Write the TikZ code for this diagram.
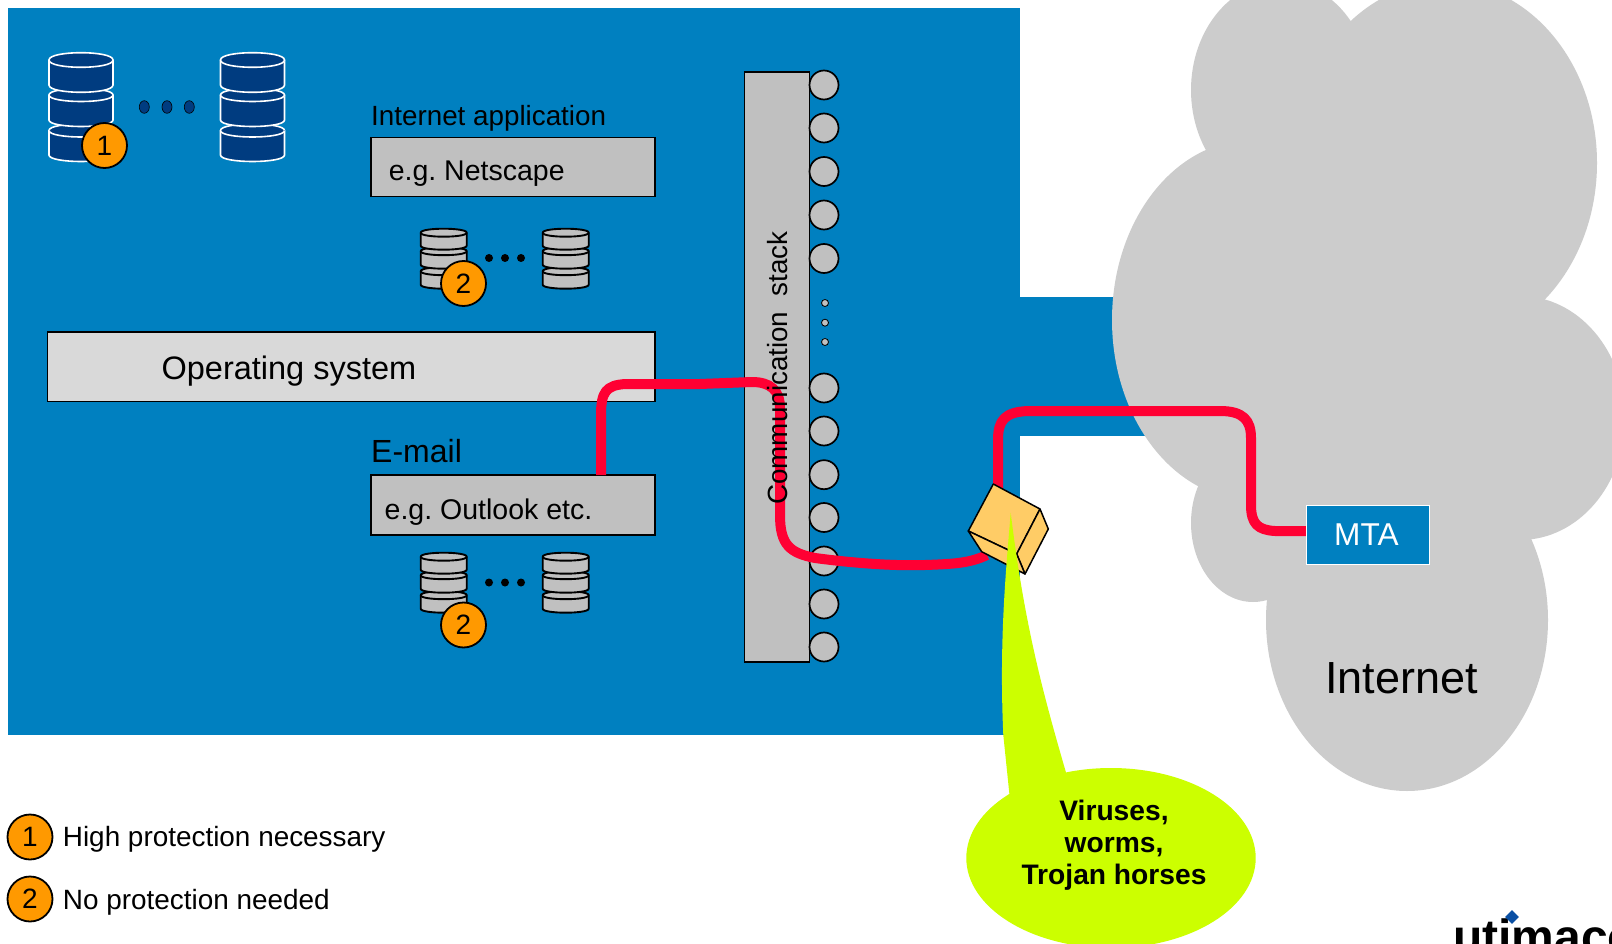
\documentclass[tikz,border=0pt]{standalone}
\usepackage{fontspec}
\usetikzlibrary{shapes.geometric}
\setmainfont{Liberation Sans}
\AtBeginDocument{\frenchspacing}
\definecolor{mainblue}{HTML}{0080C0}
\definecolor{navy}{HTML}{003C80}
\definecolor{boxgray}{HTML}{C0C0C0}
\definecolor{osgray}{HTML}{D9D9D9}
\definecolor{cloudgray}{HTML}{CCCCCC}
\definecolor{wire}{HTML}{FF0033}
\definecolor{badgeorange}{HTML}{FF9900}
\definecolor{cubeorange}{HTML}{FFCC66}
\definecolor{lime}{HTML}{CCFF00}
\definecolor{logoblue}{HTML}{0A4FA3}
\newcommand{\fpx}[1]{\fontsize{#1pt}{#1pt}\selectfont}
% x, y of top ellipse centre, rx, ry, height, style
\newcommand{\drumshape}[6]{%
  \draw[#6] ({#1-#3},{#2}) -- ({#1-#3},{#2+#5})
    .. controls ({#1-#3},{#2+#5+1.33*#4}) and ({#1+#3},{#2+#5+1.33*#4}) .. ({#1+#3},{#2+#5})
    -- ({#1+#3},{#2})
    .. controls ({#1+#3},{#2-1.33*#4}) and ({#1-#3},{#2-1.33*#4}) .. cycle;
  \draw[#6] ({#1-#3},{#2}) .. controls ({#1-#3},{#2+1.33*#4}) and ({#1+#3},{#2+1.33*#4}) .. ({#1+#3},{#2});
}
\newcommand{\bigstack}[1]{%
  \drumshape{#1}{130.5}{32}{6.5}{24.5}{bigdrum}
  \drumshape{#1}{95}{32}{6.5}{25}{bigdrum}
  \drumshape{#1}{60}{32}{7.3}{25}{bigdrum}
}
\newcommand{\smallstack}[2]{%
  \drumshape{#1}{#2+38.5}{23}{4}{13.5}{smalldrum}
  \drumshape{#1}{#2+18.5}{23}{4}{13.5}{smalldrum}
  \drumshape{#1}{#2}{23}{4}{13}{smalldrum}
}
\tikzset{
  x=1pt,y=-1pt,
  bigdrum/.style={fill=navy,draw=white,line width=1.6pt},
  smalldrum/.style={fill=boxgray,draw=black,line width=1.9pt},
  graybox/.style={draw=black,line width=1.2pt,fill=boxgray,inner sep=0pt,rectangle},
  portdisc/.style={circle,draw=black,line width=1.7pt,fill=boxgray,minimum size=29pt,inner sep=0pt},
  tinydisc/.style={circle,draw=black,line width=0.8pt,fill=boxgray,minimum size=7pt,inner sep=0pt},
  badge/.style={circle,draw=black,line width=1.8pt,fill=badgeorange,minimum size=45pt,inner sep=0pt,font=\fpx{28}},
  label/.style={inner sep=0pt,anchor=base west,font=\fpx{28}},
  wireline/.style={draw=wire,line width=10pt,line cap=round,line join=round},
  cubeface/.style={fill=cubeorange,draw=black,line width=1.5pt,line join=round},
}
\begin{document}
\begin{tikzpicture}
\useasboundingbox (0,0) rectangle (1612,944);
\clip (0,0) rectangle (1612,944);
\fill[white] (0,0) rectangle (1612,944);
% blue area
\fill[mainblue] (8,8) rectangle (1020,735);
\fill[mainblue] (1020,297) rectangle (1220,436);
% cloud
\fill[cloudgray] (1281,90) ellipse [x radius=90pt,y radius=109pt];
\fill[cloudgray] (1445,163) ellipse [x radius=152pt,y radius=181pt];
\fill[cloudgray] (1252,320) ellipse [x radius=140pt,y radius=180pt];
\fill[cloudgray] (1253,523) ellipse [x radius=62pt,y radius=79pt];
\fill[cloudgray] (1407,620) ellipse [x radius=141pt,y radius=171pt];
\fill[cloudgray] (1520,418) ellipse [x radius=105pt,y radius=122pt];
\fill[cloudgray] (1300,300) rectangle (1500,560);
\node[inner sep=0pt,anchor=base west,font=\fpx{45}] (inet) at (1325,693) {Internet};
% data stores
\bigstack{81}
\bigstack{252.5}
\foreach \dx/\nm in {144.3/a,167/b,189.3/c}
  \node[ellipse,draw=black,line width=0.6pt,fill=navy,minimum width=10pt,minimum height=12.6pt,inner sep=0pt] (bd\nm) at (\dx,107) {};
\node[badge] (b1) at (104.5,145.5) {1};
% application boxes
\node[label,font=\fpx{27.8}] (ia) at (371,126) {Internet application};
\node[graybox,minimum width=284pt,minimum height=59pt] (nets) at (513,167) {};
\node[label,font=\fpx{28.5}] (netst) at (388.6,181) {e.g. Netscape};
\smallstack{443.7}{232.7}
\smallstack{565.7}{232.7}
\foreach \dx/\nm in {489/a,505/b,521/c}
  \node[circle,fill=black,minimum size=8pt,inner sep=0pt] (ud\nm) at (\dx,258) {};
\node[badge] (b2a) at (463.5,283.5) {2};
\node[graybox,fill=osgray,minimum width=607.7pt,minimum height=69.5pt] (os) at (351.2,366.7) {};
\node[label,font=\fpx{32.5}] (ost) at (161.4,379) {Operating system};
\node[label,font=\fpx{32}] (em) at (371,462) {E-mail};
\node[graybox,minimum width=284pt,minimum height=60pt] (mail) at (513,505) {};
\node[label,font=\fpx{28.5}] (mailt) at (384.5,519) {e.g. Outlook etc.};
\smallstack{443.7}{556.7}
\smallstack{565.7}{556.7}
\foreach \dx/\nm in {489/a,505/b,521/c}
  \node[circle,fill=black,minimum size=8pt,inner sep=0pt] (ld\nm) at (\dx,582.5) {};
\node[badge] (b2b) at (463.5,625) {2};
% communication stack
\node[graybox,minimum width=65pt,minimum height=590pt] (comm) at (777,367) {};
\foreach \py/\nm in {85/a,128/b,171.5/c,215/d,258.5/e,388/f,431/g,474.7/h,517.5/i,561/j,604/k,647/l}
  \node[portdisc] (port\nm) at (824,\py) {};
\foreach \py/\nm in {303/a,322.7/b,342/c}
  \node[tinydisc] (tiny\nm) at (825,\py) {};
% MTA
\node[fill=mainblue,draw=white,line width=1pt,minimum width=123.5pt,minimum height=59.5pt,inner sep=0pt] (mta) at (1368,535) {};
\node[inner sep=0pt,anchor=base west,font=\fpx{31.6},text=white] (mtat) at (1334,545.7) {MTA};
% wires
\coordinate (wirestart) at (601,475);
\coordinate (cubein) at (987,555);
\coordinate (cubeout) at (998,490);
\draw[wireline,line cap=butt] (wirestart) -- (601,415) .. controls (601,392) and (606,385) .. (626,384)
  -- (700,384) -- (752,382) .. controls (770,382) and (780,390) .. (780,408)
  -- (780,515) .. controls (780,545) and (790,553) .. (815,558)
  .. controls (860,564) and (900,566) .. (925,565) .. controls (955,564) and (970,563) .. (cubein);
\draw[wireline,line cap=butt] (cubeout) -- (998,440) .. controls (998,420) and (1005,412) .. (1028,411)
  -- (1220,411) .. controls (1243,411) and (1251,420) .. (1251,438)
  -- (1251,505) .. controls (1251,524) and (1258,530) .. (1275,531) -- ([yshift=4pt]mta.west);
\node[inner sep=0pt,anchor=base,rotate=90,font=\fpx{27.8}] (commt) at (787.3,368) {Communication\ \ stack};
% cube
\coordinate (ca) at (993.3,484); \coordinate (cb) at (1040,509); \coordinate (cc) at (1048.3,529);
\coordinate (cd) at (1025,574); \coordinate (ce) at (981.7,551.7); \coordinate (cf) at (968.3,531);
\coordinate (cg) at (1016.7,554);
\draw[cubeface] (ca) -- (cb) -- (cg) -- (cf) -- cycle;
\draw[cubeface] (cb) -- (cc) -- (cd) -- (cg) -- cycle;
\draw[cubeface] (cf) -- (cg) -- (cd) -- (ce) -- cycle;
% callout
\fill[lime] (1010.7,512.7) .. controls (1006,570) and (999,640) .. (1003.3,735)
  -- (1010,800) -- (1066.7,775) .. controls (1045,700) and (1025,630) .. cycle;
\node[ellipse,fill=lime,minimum width=289.4pt,minimum height=180pt,inner sep=0pt] (callout) at (1111,858) {};
\foreach \ty/\tx/\nm in {820/{Viruses,}/a,852/{worms,}/b,884/{Trojan horses}/c}
  \node[inner sep=0pt,anchor=base,font=\bfseries\fpx{28.2}] (vt\nm) at (1114,\ty) {\tx};
% legend
\node[badge] (la) at (30,837) {1};
\node[label,font=\fpx{27.9}] (lat) at (62.7,846) {High protection necessary};
\node[badge] (lb) at (30,899) {2};
\node[label,font=\fpx{27.9}] (lbt) at (62.7,909) {No protection needed};
% logo
\node[inner sep=0pt,anchor=base west,font=\bfseries\fpx{48}] (logo) at (1453,953) {utimaco};
\node[diamond,fill=logoblue,minimum size=14pt,inner sep=0pt] (logod) at (1512,917) {};
\end{tikzpicture}
\end{document}
